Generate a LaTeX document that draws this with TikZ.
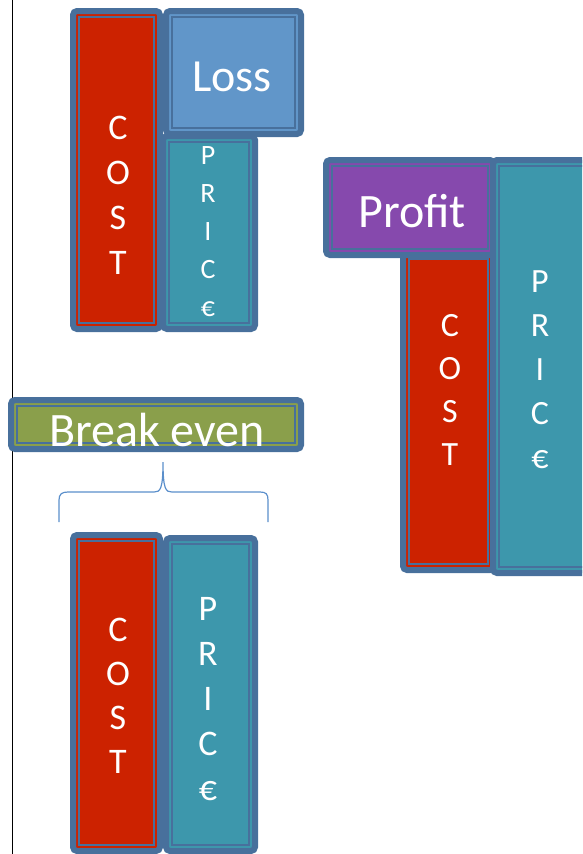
\documentclass[tikz,border=0pt]{standalone}
\usepackage{fontspec}
\setmainfont{Carlito}
\usepackage{xcolor}
\definecolor{edge}{HTML}{48709C}
\definecolor{costred}{HTML}{CC2200}
\definecolor{teal}{HTML}{3D97AC}
\definecolor{lossblue}{HTML}{6196C9}
\definecolor{profitpurple}{HTML}{8649AD}
\definecolor{evengreen}{HTML}{8A9F4B}
\definecolor{bracecol}{HTML}{5B8FCB}

\begin{document}
\begin{tikzpicture}[x=1pt, y=-1pt,
  bar/.style={draw=edge, line width=6pt, rounded corners=4pt, inner sep=0pt,
    path picture={\draw[edge, line width=1.2pt, sharp corners]
      ([shift={(6pt,-6pt)}]path picture bounding box.north west) rectangle
      ([shift={(-6pt,6pt)}]path picture bounding box.south east);}},
  word/.style={text=white, inner sep=0pt, align=center}]
\clip (0,0) rectangle (582,854);
\useasboundingbox (0,0) rectangle (582,854);

% left margin line
\draw[black, line width=0.8pt] (12,0) -- (12,854);

% Loss: cost above price
\node[bar, fill=costred, minimum width=87pt, minimum height=318pt] (cost1) at (116.5,170) {};
\node[bar, fill=teal, minimum width=92pt, minimum height=193pt] (price1) at (209,232.5) {};
\node[bar, fill=lossblue, minimum width=135pt, minimum height=123pt] (loss) at (233.5,72.5) {};
\node[word, font=\fontsize{46}{55}\selectfont] (losstxt) at (232,77) {Loss};
\node[word, font=\fontsize{36}{45}\selectfont] (cost1txt) at (118,195.5) {C\\O\\S\\T};
\node[word, font=\fontsize{28}{38}\selectfont] (price1txt) at (208,231.5) {P\\R\\I\\C\\€};

% Profit: price above cost
\node[bar, fill=costred, minimum width=91pt, minimum height=317pt] (cost2) at (448.5,411.5) {};
\node[bar, fill=profitpurple, minimum width=168pt, minimum height=95pt] (profit) at (410,207.5) {};
\node[bar, fill=teal, minimum width=97pt, minimum height=413pt] (price2) at (541.5,366.5) {};
\node[word, font=\fontsize{48}{56}\selectfont] (profittxt) at (412,211) {Profit};
\node[word, font=\fontsize{34}{43}\selectfont] (cost2txt) at (450,390) {C\\O\\S\\T};
\node[word, font=\fontsize{34}{44}\selectfont] (price2txt) at (540,370) {P\\R\\I\\C\\€};

% Break even: cost equals price
\node[bar, fill=evengreen, minimum width=290pt, minimum height=49pt] (even) at (156,424.5) {};
\node[word, font=\fontsize{48}{56}\selectfont] (eventxt) at (157,430) {Break even};

\draw[bracecol, line width=1.2pt] (59,522) -- (59,500) .. controls (59,494) and (62,492) .. (68,492)
  -- (154,492) .. controls (160,492) and (163,490) .. (163,462)
  .. controls (163,490) and (166,492) .. (172,492) -- (260,492)
  .. controls (266,492) and (268,494) .. (268,500) -- (268,522);

\node[bar, fill=costred, minimum width=87pt, minimum height=316pt] (cost3) at (116.5,693) {};
\node[bar, fill=teal, minimum width=89pt, minimum height=313pt] (price3) at (210.5,694.5) {};
\node[word, font=\fontsize{36}{44}\selectfont] (cost3txt) at (118,696) {C\\O\\S\\T};
\node[word, font=\fontsize{36}{45}\selectfont] (price3txt) at (208,699.5) {P\\R\\I\\C\\€};
\end{tikzpicture}
\end{document}
